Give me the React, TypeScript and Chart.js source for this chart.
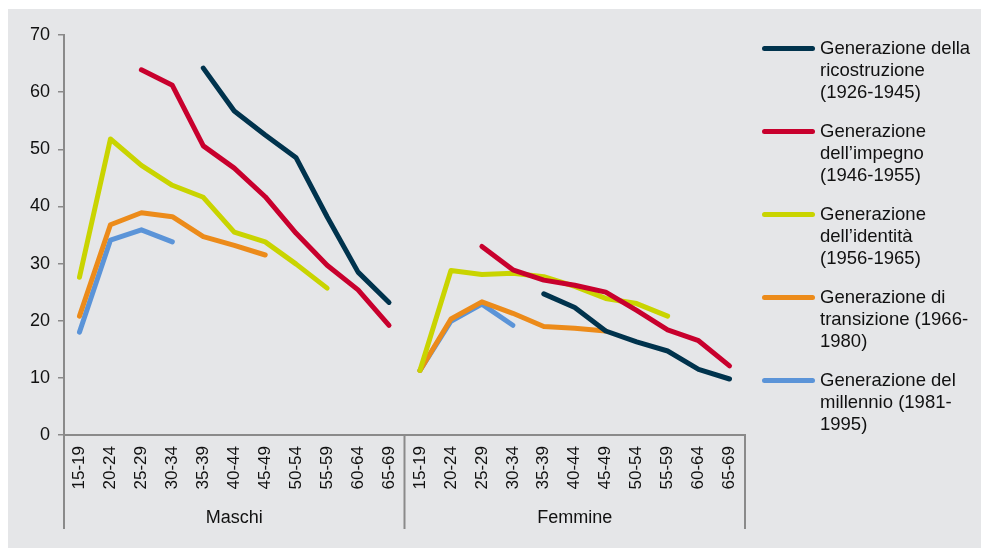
import { useEffect, useRef } from 'react'
import { Chart, registerables } from 'chart.js'

Chart.register(...registerables)

const ageGroups = ['15-19', '20-24', '25-29', '30-34', '35-39', '40-44', '45-49', '50-54', '55-59', '60-64', '65-69']
const sexes = ['Maschi', 'Femmine']

// values per generation, Maschi then Femmine (null = no data)
const ricostruzioneM = [null, null, null, null, 64.2, 56.7, 52.5, 48.5, 38.2, 28.5, 23.2]
const ricostruzioneF = [null, null, null, null, 24.7, 22.3, 18.2, 16.3, 14.7, 11.5, 9.8]
const impegnoM = [null, null, 63.9, 61.2, 50.6, 46.7, 41.7, 35.3, 29.7, 25.4, 19.2]
const impegnoF = [null, null, 33.0, 28.9, 27.1, 26.2, 25.0, 21.8, 18.4, 16.5, 12.1]
const identitaM = [27.6, 51.8, 47.2, 43.7, 41.6, 35.5, 33.8, 29.9, 25.7, null, null]
const identitaF = [11.3, 28.8, 28.1, 28.3, 27.7, 26.0, 23.9, 23.0, 20.8, null, null]
const transizioneM = [20.8, 36.8, 38.9, 38.2, 34.7, 33.2, 31.5, null, null, null, null]
const transizioneF = [11.3, 20.3, 23.3, 21.3, 19.0, 18.7, 18.2, null, null, null, null]
const millennioM = [18.0, 34.1, 35.9, 33.8, null, null, null, null, null, null, null]
const millennioF = [11.3, 19.9, 22.9, 19.2, null, null, null, null, null, null, null]

const seriesNames = [
  ['Generazione della', 'ricostruzione', '(1926-1945)'],
  ['Generazione', 'dell\u2019impegno', '(1946-1955)'],
  ['Generazione', 'dell\u2019identit\u00e0', '(1956-1965)'],
  ['Generazione di', 'transizione (1966-', '1980)'],
  ['Generazione del', 'millennio (1981-', '1995)'],
]
const seriesColors = ['#00334d', '#c8002d', '#c9d400', '#ec8b1a', '#5b94d8']
const seriesData = [
  [...ricostruzioneM, ...ricostruzioneF],
  [...impegnoM, ...impegnoF],
  [...identitaM, ...identitaF],
  [...transizioneM, ...transizioneF],
  [...millennioM, ...millennioF],
]

const FONT = '"Liberation Sans", Arial, sans-serif'
const AXIS = '#8a8a8a'

const groupAxis = {
  id: 'groupAxis',
  afterDraw(chart: any) {
    const { ctx, chartArea, scales } = chart
    const x = scales.x
    const n = ageGroups.length
    const bounds = [chartArea.left]
    for (let g = 1; g < sexes.length; g++) {
      bounds.push((x.getPixelForValue(g * n - 1) + x.getPixelForValue(g * n)) / 2)
    }
    bounds.push(chartArea.right)
    ctx.save()
    ctx.strokeStyle = AXIS
    ctx.lineWidth = 2
    bounds.forEach((bx) => {
      ctx.beginPath()
      ctx.moveTo(bx, chartArea.bottom)
      ctx.lineTo(bx, chartArea.bottom + 94)
      ctx.stroke()
    })
    ctx.fillStyle = '#111'
    ctx.font = '18px ' + FONT
    ctx.textAlign = 'center'
    ctx.textBaseline = 'middle'
    sexes.forEach((s, i) => {
      ctx.fillText(s, (bounds[i] + bounds[i + 1]) / 2, chartArea.bottom + 83)
    })
    ctx.restore()
  },
}

export default function App() {
  const canvasRef = useRef<HTMLCanvasElement>(null)

  useEffect(() => {
    document.body.style.margin = '0'
    if (!canvasRef.current) return
    const chart = new Chart(canvasRef.current.getContext('2d')!, {
      type: 'line',
      data: {
        labels: sexes.flatMap(() => ageGroups),
        datasets: seriesData.map((d, i) => ({
          label: seriesNames[i].join(' '),
          data: d,
          borderColor: seriesColors[i],
          backgroundColor: seriesColors[i],
          borderWidth: 5,
          borderCapStyle: 'round',
          borderJoinStyle: 'round',
          pointRadius: 0,
          tension: 0,
          spanGaps: false,
        })) as any,
      },
      options: {
        animation: false,
        responsive: true,
        maintainAspectRatio: false,
        layout: { padding: { top: 26, right: 236, left: 0, bottom: 0 } },
        plugins: { legend: { display: false }, tooltip: { enabled: false } },
        scales: {
          x: {
            offset: true,
            grid: { display: true, drawOnChartArea: false, drawTicks: false },
            border: { color: AXIS, width: 2 },
            ticks: { autoSkip: false, maxRotation: 90, minRotation: 90, padding: 11, color: '#111', font: { family: FONT, size: 17 } },
            afterFit: (s: any) => { s.height = 113 },
          },
          y: {
            min: 0,
            max: 70,
            ticks: { stepSize: 10, padding: 8, color: '#111', font: { family: FONT, size: 18 } },
            grid: { drawOnChartArea: false, tickLength: 6, color: AXIS, lineWidth: 1.5 },
            border: { color: AXIS, width: 2 },
            afterFit: (s: any) => { s.width = 56 },
          },
        },
      },
      plugins: [groupAxis],
    })
    return () => { chart.destroy() }
  }, [])

  return (
    <div style={{ position: 'relative', width: 981, height: 548, background: '#fff', overflow: 'hidden' }}>
      <div style={{ position: 'absolute', left: 8, top: 9, width: 973, height: 539, background: '#e5e6e8', fontFamily: FONT }}>
        <canvas ref={canvasRef} />
        <div style={{ position: 'absolute', left: 754, top: 28 }}>
          {seriesNames.map((lines, i) => (
            <div key={i} style={{ display: 'flex', alignItems: 'flex-start', marginBottom: 17 }}>
              <span style={{ display: 'block', width: 53, height: 5, borderRadius: 3, marginTop: 8.5, background: seriesColors[i], flexShrink: 0 }} />
              <div style={{ marginLeft: 5, fontSize: 18.5, lineHeight: '22px', color: '#111', whiteSpace: 'nowrap' }}>
                {lines.map((l) => <div key={l}>{l}</div>)}
              </div>
            </div>
          ))}
        </div>
      </div>
    </div>
  )
}
